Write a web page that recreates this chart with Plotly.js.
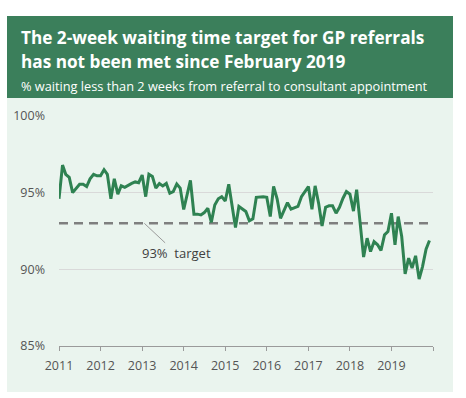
<!DOCTYPE html>
<html><head><meta charset="utf-8">
<script src="https://cdn.plot.ly/plotly-3.0.1.min.js"></script>
<style>html,body{margin:0;padding:0;background:#fff;}#chart{width:466px;height:398px;}</style>
</head><body><div id="chart"></div>
<script>
// Monthly % seen within 2 weeks, Jan 2011 - Dec 2019
const startYear = 2011;
const values = [
 94.6, 96.8, 96.2, 96.0, 95.0, 95.3, 95.55, 95.55, 95.4, 95.9, 96.2, 96.1,
 96.1, 96.5, 96.2, 94.6, 95.9, 94.9, 95.45, 95.35, 95.5, 95.6, 95.7, 95.65,
 96.15, 94.74, 96.2, 96.05, 95.3, 95.6, 95.44, 95.6, 94.96, 95.07, 95.57, 95.3,
 93.9, 94.9, 95.8, 93.6, 93.6, 93.55, 93.7, 93.98, 93.07, 94.2, 94.6, 94.74,
 94.46, 95.55, 94.2, 92.72, 94.1, 93.94, 93.77, 93.16, 93.29, 94.7, 94.74, 94.74,
 94.7, 93.44, 95.4, 94.6, 93.33, 93.88, 94.35, 93.92, 93.99, 94.1, 94.74, 95.1,
 95.4, 93.92, 95.44, 94.3, 92.83, 94.05, 94.14, 94.14, 93.66, 94.05, 94.64, 95.07,
 94.9, 93.8, 95.2, 93.0, 90.8, 92.03, 91.16, 91.81, 91.6, 91.23, 92.25, 92.46,
 93.66, 91.6, 93.44, 92.14, 89.7, 90.73, 90.08, 90.88, 89.36, 90.18, 91.32, 91.88
];
const target = 93;
const yearTicks = ['2011','2012','2013','2014','2015','2016','2017','2018','2019','2020'];
const yearLabels = ['2011','2012','2013','2014','2015','2016','2017','2018','2019',''];
const yTicks = [85, 90, 95, 100];
const yLabels = ['85%', '90%', '95%', '100%'];

const dates = values.map((v, i) => {
  const y = startYear + Math.floor(i / 12);
  const m = (i % 12) + 1;
  return y + '-' + String(m).padStart(2, '0') + '-01';
});

// pixel -> paper helpers for decoration
const L = 59, R = 33, T = 116, B = 52, W = 466, H = 398;
const pw = W - L - R, ph = H - T - B;
const xp = px => (px - L) / pw;
const yp = py => (H - B - py) / ph;

const FONT = 'Open Sans, sans-serif';
const green = '#3b7f5b';

const traces = [
  {
    x: [dates[0], dates[dates.length - 1]],
    y: [target, target],
    mode: 'lines',
    line: {color: '#7f7f7f', width: 2.5, dash: '9px,6px'},
    hoverinfo: 'skip'
  },
  {
    x: dates, y: values,
    mode: 'lines',
    line: {color: '#2f8252', width: 3},
    hoverinfo: 'skip'
  }
];

const layout = {
  width: W, height: H,
  margin: {l: L, r: R, t: T, b: B, pad: 0},
  paper_bgcolor: '#ffffff',
  plot_bgcolor: 'rgba(0,0,0,0)',
  showlegend: false,
  font: {family: FONT, color: '#555555', size: 12.5},
  xaxis: {
    type: 'date',
    range: ['2011-01-01', '2020-01-01'],
    tickmode: 'array',
    tickvals: yearTicks.map(y => y + '-01-01'),
    ticktext: yearLabels,
    showgrid: false,
    showline: true, linecolor: '#9a9a9a', linewidth: 1,
    ticks: 'outside', ticklen: 4, tickcolor: '#9a9a9a', tickwidth: 1,
    ticklabelstandoff: 4,
    tickfont: {family: FONT, size: 12.5, color: '#555555'},
    zeroline: false, fixedrange: true
  },
  yaxis: {
    range: [85, 100],
    tickmode: 'array', tickvals: yTicks, ticktext: yLabels,
    showgrid: true, gridcolor: '#d9d9d9', gridwidth: 1.5,
    showline: false, zeroline: false,
    ticks: '', ticklabelstandoff: 13,
    tickfont: {family: FONT, size: 12.5, color: '#555555'},
    fixedrange: true
  },
  shapes: [
    {type: 'rect', xref: 'paper', yref: 'paper', layer: 'below',
     x0: xp(7), x1: xp(453), y0: yp(98), y1: yp(392),
     fillcolor: '#eaf4ee', line: {width: 0}},
    {type: 'rect', xref: 'paper', yref: 'paper', layer: 'below',
     x0: xp(7), x1: xp(453), y0: yp(16), y1: yp(98),
     fillcolor: green, line: {width: 0}}
  ],
  annotations: [
    {xref: 'paper', yref: 'paper', x: xp(19), y: yp(37), xanchor: 'left', yanchor: 'middle',
     showarrow: false, align: 'left',
     text: '<b>The 2-week waiting time target for GP referrals</b>',
     font: {family: FONT, size: 17.2, color: '#ffffff'}},
    {xref: 'paper', yref: 'paper', x: xp(19), y: yp(61), xanchor: 'left', yanchor: 'middle',
     showarrow: false, align: 'left',
     text: '<b>has not been met since February 2019</b>',
     font: {family: FONT, size: 17.2, color: '#ffffff'}},
    {xref: 'paper', yref: 'paper', x: xp(18.5), y: yp(85.5), xanchor: 'left', yanchor: 'middle',
     showarrow: false, align: 'left',
     text: '% waiting less than 2 weeks from referral to consultant appointment',
     font: {family: FONT, size: 12.75, color: '#ffffff'}},
    {xref: 'x', yref: 'y', x: '2013-01-20', y: target,
     ax: 32, ay: 30, showarrow: true, arrowhead: 0, arrowwidth: 1, arrowcolor: '#9a9a9a',
     text: '93%&nbsp;&nbsp;target', font: {family: FONT, size: 13, color: '#404040'},
     standoff: 0}
  ]
};

Plotly.newPlot('chart', traces, layout, {staticPlot: true, displayModeBar: false});
</script>
</body></html>
